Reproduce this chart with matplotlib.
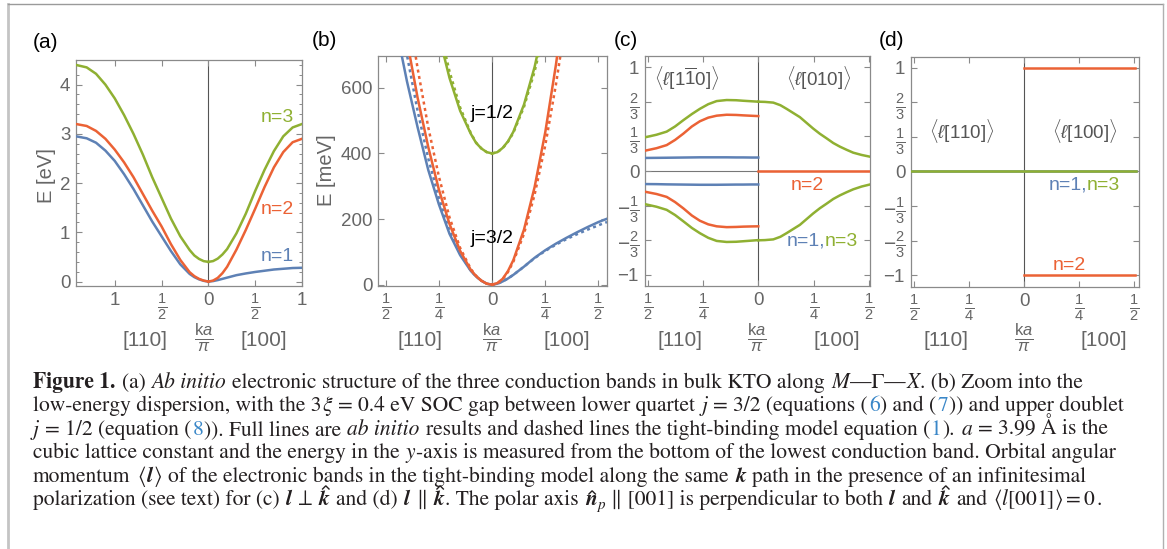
import matplotlib
matplotlib.use("Agg")
import matplotlib.pyplot as plt
from matplotlib.lines import Line2D

W, H = 1167, 549

plt.rcParams['font.family'] = ['Liberation Sans', 'DejaVu Sans']
plt.rcParams['mathtext.fontset'] = 'custom'
plt.rcParams['mathtext.rm'] = 'Liberation Sans'
plt.rcParams['mathtext.it'] = 'Liberation Sans:italic'
plt.rcParams['mathtext.bf'] = 'Liberation Sans:bold'

BLUE, RED, GREEN = '#5e81b5', '#eb6235', '#8fb032'
GREY_TXT = '#666666'
GREY_AX = '#8a8a8a'

# ---- (a) ab initio bands, eV, k in units of pi/a ----
ka_left = [-1.414, -1.3, -1.2, -1.1, -1.0, -0.9, -0.8, -0.7, -0.6, -0.5, -0.4, -0.3, -0.2, -0.15, -0.1, -0.05, 0]
a_n1_left = [2.95, 2.91, 2.82, 2.66, 2.45, 2.18, 1.88, 1.55, 1.22, 0.92, 0.62, 0.35, 0.155, 0.09, 0.045, 0.015, 0]
a_n2_left = [3.2, 3.16, 3.06, 2.9, 2.68, 2.42, 2.12, 1.78, 1.44, 1.12, 0.76, 0.44, 0.19, 0.11, 0.055, 0.02, 0]
a_n3_left = [4.4, 4.35, 4.22, 4.0, 3.72, 3.38, 3.0, 2.58, 2.12, 1.7, 1.28, 0.92, 0.64, 0.53, 0.46, 0.415, 0.4]
ka_right = [0, 0.05, 0.1, 0.15, 0.2, 0.3, 0.4, 0.5, 0.6, 0.7, 0.8, 0.9, 1.0]
a_n1_right = [0, 0.01, 0.03, 0.055, 0.08, 0.13, 0.165, 0.195, 0.22, 0.245, 0.26, 0.275, 0.28]
a_n2_right = [0, 0.02, 0.075, 0.17, 0.3, 0.65, 1.05, 1.48, 1.92, 2.32, 2.63, 2.83, 2.9]
a_n3_right = [0.4, 0.416, 0.466, 0.55, 0.66, 0.98, 1.38, 1.84, 2.27, 2.65, 2.95, 3.13, 3.2]

# ---- (b) low energy zoom, meV (solid: ab initio, _tb: tight binding) ----
kb_left = [-0.536, -0.5, -0.45, -0.4, -0.35, -0.3, -0.25, -0.2, -0.15, -0.1, -0.075, -0.05, -0.025, 0]
b_n1_left = [1100, 960, 780, 620, 480, 350, 245, 155, 90, 42, 25, 12, 3, 0]
b_n2_left = [1330, 1160, 940, 745, 570, 420, 290, 185, 103, 45, 26, 12, 3, 0]
b_n3_left = [1900, 1750, 1530, 1300, 1100, 920, 760, 630, 530, 460, 432, 415, 404, 400]
b_n1_left_tb = [1250, 1090, 880, 700, 530, 385, 265, 165, 95, 43, 25, 12, 3, 0]
b_n2_left_tb = [1500, 1330, 1080, 860, 660, 480, 330, 205, 112, 48, 27, 12, 3, 0]
b_n3_left_tb = [2000, 1850, 1620, 1380, 1160, 960, 790, 650, 540, 462, 433, 415, 404, 400]
kb_right = [0, 0.025, 0.05, 0.075, 0.1, 0.15, 0.2, 0.25, 0.3, 0.35, 0.4, 0.45, 0.5, 0.54]
b_n1_right = [0, 3, 10, 19, 30, 55, 82, 105, 125, 143, 160, 176, 191, 201]
b_n2_right = [0, 5, 18, 42, 75, 168, 298, 465, 670, 910, 1190, 1500, 1850, 2150]
b_n3_right = [400, 404, 417, 437, 466, 549, 664, 812, 994, 1200, 1430, 1680, 1950, 2180]
b_n1_right_tb = [0, 3, 10, 19, 30, 55, 81, 103, 122, 139, 154, 168, 181, 191]
b_n2_right_tb = [0, 4, 17, 39, 70, 155, 275, 425, 610, 820, 1060, 1330, 1620, 1880]
b_n3_right_tb = [400, 404, 416, 436, 463, 542, 650, 790, 960, 1160, 1380, 1620, 1880, 2100]

# ---- (c) <l> perpendicular to k ----
kc_left = [-0.512, -0.46, -0.414, -0.376, -0.339, -0.30, -0.264, -0.226, -0.188, -0.143, -0.10, -0.068, -0.03, 0]
c_n3_up = [0.325, 0.35, 0.38, 0.43, 0.49, 0.55, 0.60, 0.645, 0.675, 0.685, 0.683, 0.678, 0.673, 0.669]
c_n2_up = [0.196, 0.22, 0.25, 0.30, 0.36, 0.43, 0.48, 0.515, 0.534, 0.543, 0.541, 0.537, 0.533, 0.53]
c_n1_up = [0.126, 0.127, 0.128, 0.129, 0.130, 0.131, 0.132, 0.132, 0.132, 0.132, 0.131, 0.131, 0.130, 0.130]
c_n1_dn = [-0.126, -0.127, -0.129, -0.13, -0.131, -0.132, -0.133, -0.133, -0.133, -0.132, -0.131, -0.131, -0.13, -0.13]
c_n2_dn = [-0.20, -0.222, -0.25, -0.30, -0.36, -0.43, -0.48, -0.515, -0.534, -0.542, -0.54, -0.537, -0.535, -0.534]
c_n3_dn = [-0.32, -0.345, -0.375, -0.425, -0.485, -0.55, -0.60, -0.645, -0.675, -0.685, -0.683, -0.678, -0.672, -0.667]
kc_right = [0, 0.03, 0.068, 0.1, 0.128, 0.158, 0.188, 0.218, 0.248, 0.278, 0.309, 0.339, 0.369, 0.399, 0.429, 0.467, 0.505]
c_n3_up_r = [0.669, 0.667, 0.66, 0.635, 0.60, 0.56, 0.52, 0.465, 0.41, 0.36, 0.315, 0.27, 0.235, 0.205, 0.177, 0.155, 0.138]
c_n3_dn_r = [-0.669, -0.667, -0.66, -0.635, -0.60, -0.56, -0.52, -0.465, -0.41, -0.36, -0.315, -0.27, -0.235, -0.205, -0.177, -0.15, -0.13]
kc_n2_r = [0, 0.505]
c_n2_r = [0, 0]

# ---- (d) <l> parallel to k ----
kd_full = [-0.514, 0.51]
d_n13 = [0, 0]
kd_right = [0, 0.505]
d_n2_up = [1, 1]
d_n2_dn = [-1, -1]

fig = plt.figure(figsize=(W / 100, H / 100), dpi=100)


def px_axes(l, t, r, b):
    return fig.add_axes([l / W, 1 - b / H, (r - l) / W, (b - t) / H])


def T(x, y, s, **kw):
    kw.setdefault('ha', 'center')
    kw.setdefault('va', 'center')
    return fig.text(x / W, 1 - y / H, s, **kw)


def F(n, d):
    return r'$\frac{%s}{%s}$' % (n, d)


def style(ax, xlim, ylim, xt, xl, yt, yl):
    ax.set_xlim(xlim)
    ax.set_ylim(ylim)
    ax.set_xticks(xt)
    ax.set_xticklabels(xl)
    ax.set_yticks(yt)
    ax.set_yticklabels(yl)
    ax.tick_params(direction='in', length=4, width=0.8, colors=GREY_AX,
                   labelcolor=GREY_TXT, labelsize=13.5, top=True, right=True, pad=4)
    ax.tick_params(which='minor', direction='in', length=2.5, width=0.7,
                   colors=GREY_AX, top=True, right=True)
    for t in ax.get_xticklabels() + ax.get_yticklabels():
        if 'frac' in t.get_text():
            t.set_fontsize(15)
    for sp in ax.spines.values():
        sp.set_color(GREY_AX)
        sp.set_linewidth(0.9)
    ax.axvline(0, color='#555555', lw=0.8, zorder=1)


LW = 1.8
half_ticks = [-0.5, -0.25, 0, 0.25, 0.5]
half_labels = [F(1, 2), F(1, 4), '0', F(1, 4), F(1, 2)]
l_ticks = [-1, -2 / 3, -1 / 3, 0, 1 / 3, 2 / 3, 1]
l_labels = [r'$-1$', r'$-\frac{2}{3}$', r'$-\frac{1}{3}$', '0', F(1, 3), F(2, 3), '1']

# (a)
ax = px_axes(76, 60, 302, 286)
for k, e, c in [(ka_left, a_n1_left, BLUE), (ka_right, a_n1_right, BLUE),
                (ka_left, a_n2_left, RED), (ka_right, a_n2_right, RED),
                (ka_left, a_n3_left, GREEN), (ka_right, a_n3_right, GREEN)]:
    ax.plot(k, e, color=c, lw=LW, zorder=3)
style(ax, (-1.414, 1.0), (-0.09, 4.5), [-1, -0.5, 0, 0.5, 1],
      ['1', F(1, 2), '0', F(1, 2), '1'], [0, 1, 2, 3, 4], ['0', '1', '2', '3', '4'])
ax.set_yticks([i * 0.2 for i in range(23)], minor=True)

# (b)
ax = px_axes(378, 56, 607, 286)
for k, e, e_tb, c in [(kb_left, b_n1_left, b_n1_left_tb, BLUE), (kb_right, b_n1_right, b_n1_right_tb, BLUE),
                      (kb_left, b_n2_left, b_n2_left_tb, RED), (kb_right, b_n2_right, b_n2_right_tb, RED),
                      (kb_left, b_n3_left, b_n3_left_tb, GREEN), (kb_right, b_n3_right, b_n3_right_tb, GREEN)]:
    ax.plot(k, e, color=c, lw=LW, zorder=3)
    ax.plot(k, e_tb, color=c, lw=LW, ls=(0, (1.2, 1.4)), zorder=3)
style(ax, (-0.536, 0.54), (-4, 697), half_ticks, half_labels,
      [0, 200, 400, 600], ['0', '200', '400', '600'])
ax.text(0, 523, 'j=1/2', ha='center', va='center', fontsize=14, color='black')
ax.text(0, 141, 'j=3/2', ha='center', va='center', fontsize=14, color='black')

# (c)
ax = px_axes(645, 56, 870, 286)
ax.axhline(0, color='#777777', lw=0.8, zorder=1)
for k, v, c in [(kc_left, c_n1_up, BLUE), (kc_left, c_n1_dn, BLUE),
                (kc_left, c_n2_up, RED), (kc_left, c_n2_dn, RED), (kc_n2_r, c_n2_r, RED),
                (kc_left, c_n3_up, GREEN), (kc_left, c_n3_dn, GREEN),
                (kc_right, c_n3_up_r, GREEN), (kc_right, c_n3_dn_r, GREEN)]:
    ax.plot(k, v, color=c, lw=LW, zorder=3)
style(ax, (-0.512, 0.505), (-1.11, 1.11), half_ticks, half_labels, l_ticks, l_labels)

# (d)
ax = px_axes(911, 57, 1139, 287)
ax.axhline(0, color='#777777', lw=0.8, zorder=1)
ax.plot(kd_full, d_n13, color=BLUE, lw=LW, zorder=3)
ax.plot(kd_full, d_n13, color=GREEN, lw=LW, zorder=3)
ax.plot(kd_right, d_n2_up, color=RED, lw=LW, zorder=3)
ax.plot(kd_right, d_n2_dn, color=RED, lw=LW, zorder=3)
style(ax, (-0.514, 0.523), (-1.114, 1.103), half_ticks, half_labels, l_ticks, l_labels)

# panel letters, axis labels
for x, y, s in [(45, 43, '(a)'), (324, 40, '(b)'), (626, 40, '(c)'), (892, 41, '(d)')]:
    T(x, y, s, fontsize=15, color='black')
T(46, 176, 'E [eV]', fontsize=14.5, color=GREY_TXT, rotation=90)
T(326, 170, 'E [meV]', fontsize=14.5, color=GREY_TXT, rotation=90)
for xl, xm, xr in [(145, 204, 264), (420, 492, 567), (680, 757, 837), (946, 1024, 1104)]:
    T(xl, 341, '[110]', fontsize=15, color=GREY_TXT)
    T(xm, 338, r'$\frac{\mathrm{k}a}{\pi}$', fontsize=17, color=GREY_TXT)
    T(xr, 341, '[100]', fontsize=15, color=GREY_TXT)

T(277, 118, 'n=3', fontsize=14, color=GREEN)
T(277, 210, 'n=2', fontsize=14, color=RED)
T(277, 257, 'n=1', fontsize=14, color=BLUE)

T(687, 78, r'$\langle\ell[1\overline{1}0]\rangle$', fontsize=13.5, color='#555555')
T(819, 78, r'$\langle\ell[010]\rangle$', fontsize=13.5, color='#555555')
T(807, 185, 'n=2', fontsize=14, color=RED)
T(825, 241, 'n=1,', fontsize=14, color=BLUE, ha='right')
T(825, 241, 'n=3', fontsize=14, color=GREEN, ha='left')

T(962, 131, r'$\langle\ell[110]\rangle$', fontsize=13.5, color='#555555')
T(1085, 131, r'$\langle\ell[100]\rangle$', fontsize=13.5, color='#555555')
T(1087, 185, 'n=1,', fontsize=14, color=BLUE, ha='right')
T(1087, 185, 'n=3', fontsize=14, color=GREEN, ha='left')
T(1069, 265, 'n=2', fontsize=14, color=RED)

# outer frame
for xs, ys, c, w in [([8, 8], [4, 549], '#c4c4c4', 2.0), ([8, 1163], [4, 4], '#9a9a9a', 1.0),
                     ([1163, 1163], [4, 549], '#b0b0b0', 1.0)]:
    fig.add_artist(Line2D([x / W for x in xs], [1 - y / H for y in ys], color=c, lw=w))

# caption
CAP_FS = 15.5
CAP_COL = '#231f20'
REF_COL = '#3a87c8'
cap_lines = [
    [('Figure 1.', 'b'), (' (a) ', 'n'), ('Ab initio', 'i'),
     (' electronic structure of the three conduction bands in bulk KTO along ', 'n'),
     ('M', 'i'), ('—Γ—', 'n'), ('X', 'i'), ('. (b) Zoom into the', 'n')],
    [('low-energy dispersion, with the 3', 'n'), ('ξ', 'i'), (' = 0.4 eV SOC gap between lower quartet ', 'n'),
     ('j', 'i'), (' = 3/2 (equations (', 'n'), ('6', 'ref'), (') and (', 'n'), ('7', 'ref'),
     (')) and upper doublet', 'n')],
    [('j', 'i'), (' = 1/2 (equation (', 'n'), ('8', 'ref'), (')). Full lines are ', 'n'), ('ab initio', 'i'),
     (' results and dashed lines the tight-binding model equation (', 'n'), ('1', 'ref'), ('). ', 'n'),
     ('a', 'i'), (' = 3.99 Å is the', 'n')],
    [('cubic lattice constant and the energy in the ', 'n'), ('y', 'i'),
     ('-axis is measured from the bottom of the lowest conduction band. Orbital angular', 'n')],
    [('momentum ', 'n'), (r'$\langle$', 'n'), ('l', 'bi'), (r'$\rangle$', 'n'),
     (' of the electronic bands in the tight-binding model along the same ', 'n'), ('k', 'bi'),
     (' path in the presence of an infinitesimal', 'n')],
    [('polarization (see text) for (c) ', 'n'), ('l', 'bi'), (' ⊥ ', 'n'), ('k', 'hat_tall'),
     (' and (d) ', 'n'), ('l', 'bi'), (' ∥ ', 'n'), ('k', 'hat_tall'),
     ('. The polar axis ', 'n'), ('n', 'hat_short'), ('p', 'sub'),
     (' ∥ [001] is perpendicular to both ', 'n'), ('l', 'bi'), (' and ', 'n'), ('k', 'hat_tall'),
     (' and ', 'n'), (r'$\langle l[001]\rangle = 0$', 'n'), ('.', 'n')],
]

renderer = fig.canvas.get_renderer()
space = 0.25 * CAP_FS * 100 / 72
y0, dy = 388, 23.4
for i, runs in enumerate(cap_lines):
    x = 33
    yb = y0 + i * dy
    for s, st in runs:
        lead = len(s) - len(s.lstrip(' '))
        trail = len(s) - len(s.rstrip(' '))
        core = s.strip(' ')
        x += lead * space
        kw = dict(fontsize=CAP_FS, family='STIXGeneral', math_fontfamily='stix',
                  color=CAP_COL, ha='left', va='baseline')
        y = yb
        if st == 'b':
            kw['fontweight'] = 'bold'
        elif st in ('i', 'sub'):
            kw['style'] = 'italic'
        elif st in ('bi', 'hat_tall', 'hat_short'):
            kw['fontweight'] = 'bold'
            kw['style'] = 'italic'
        elif st == 'ref':
            kw['color'] = REF_COL
        if st == 'sub':
            kw['fontsize'] = CAP_FS * 0.7
            y = yb + 3.5
        t = fig.text(x / W, 1 - y / H, core, **kw)
        bb = t.get_window_extent(renderer)
        if st.startswith('hat'):
            # circumflex accent drawn as a small caret over the letter
            h = 16.0 if st == 'hat_tall' else 11.0
            cx = bb.x0 + bb.width / 2 + 1.5
            hx = [cx - 3.2, cx, cx + 3.2]
            hy = [yb - h, yb - h - 3.2, yb - h]
            fig.add_artist(Line2D([v / W for v in hx], [1 - v / H for v in hy],
                                  color=CAP_COL, lw=1.0, solid_joinstyle='miter'))
        x += bb.width + 0.8 + trail * space

fig.savefig('out.png', dpi=100)
